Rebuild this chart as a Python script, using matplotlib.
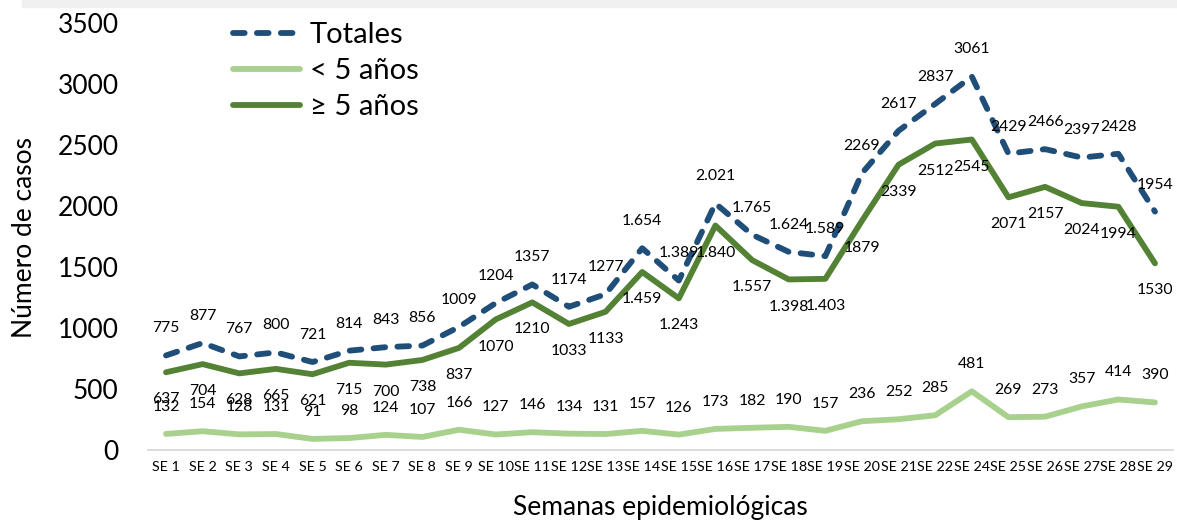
import matplotlib
matplotlib.use("Agg")
import matplotlib.pyplot as plt
from matplotlib.patches import Rectangle

plt.rcParams['font.family'] = ['Lato', 'DejaVu Sans']

weeks = ["SE 1", "SE 2", "SE 3", "SE 4", "SE 5", "SE 6", "SE 7", "SE 8", "SE 9", "SE 10",
         "SE 11", "SE 12", "SE 13", "SE 14", "SE 15", "SE 16", "SE 17", "SE 18", "SE 19",
         "SE 20", "SE 21", "SE 22", "SE 24", "SE 25", "SE 26", "SE 27", "SE 28", "SE 29"]

totales = [775, 877, 767, 800, 721, 814, 843, 856, 1009, 1204, 1357, 1174, 1277, 1654,
           1389, 2021, 1765, 1624, 1589, 2269, 2617, 2837, 3061, 2429, 2466, 2397, 2428, 1954]
menores5 = [132, 154, 128, 131, 91, 98, 124, 107, 166, 127, 146, 134, 131, 157, 126, 173,
            182, 190, 157, 236, 252, 285, 481, 269, 273, 357, 414, 390]
mayores5 = [637, 704, 628, 665, 621, 715, 700, 738, 837, 1070, 1210, 1033, 1133, 1459,
            1243, 1840, 1557, 1398, 1403, 1879, 2339, 2512, 2545, 2071, 2157, 2024, 1994, 1530]

# weeks whose labels use a dot as thousands separator
dot_weeks = ["SE 14", "SE 15", "SE 16", "SE 17", "SE 18", "SE 19"]

def fmt(v, w):
    if w in dot_weeks and v >= 1000:
        return f"{v:,}".replace(",", ".")
    return str(v)

W, H = 1177, 523
fig = plt.figure(figsize=(W / 100, H / 100), dpi=100)
fig.patches.append(Rectangle((22 / W, 1 - 7 / H), 1, 7 / H, transform=fig.transFigure,
                             color="#F0F0F0", zorder=0))

ax = fig.add_axes([147.7 / W, 1 - 450 / H, (1173.3 - 147.7) / W, (450 - 23) / H])
x = list(range(len(weeks)))

c_tot = "#1F4E79"
c_men = "#A9D18E"
c_may = "#548235"

ax.plot(x, totales, color=c_tot, lw=4.2, dashes=(2.0, 2.1), dash_capstyle="round",
        dash_joinstyle="round", label="Totales", zorder=3)
ax.plot(x, menores5, color=c_men, lw=4.2, solid_capstyle="round", solid_joinstyle="round",
        label="< 5 años", zorder=3)
ax.plot(x, mayores5, color=c_may, lw=4.2, solid_capstyle="round", solid_joinstyle="round",
        label="≥ 5 años", zorder=3)

lab_fs = 11.3
off = 19.5
for xi, w, v in zip(x, weeks, totales):
    ax.annotate(fmt(v, w), (xi, v), xytext=(0, off), textcoords="offset points",
                ha="center", va="center", fontsize=lab_fs, color="#000000", zorder=4)
for xi, w, v in zip(x, weeks, mayores5):
    ax.annotate(fmt(v, w), (xi, v), xytext=(0, -off), textcoords="offset points",
                ha="center", va="center", fontsize=lab_fs, color="#000000", zorder=4)
for xi, w, v in zip(x, weeks, menores5):
    ax.annotate(fmt(v, w), (xi, v), xytext=(0, off), textcoords="offset points",
                ha="center", va="center", fontsize=lab_fs, color="#000000", zorder=4)

ax.set_xlim(-0.5, len(weeks) - 0.5)
ax.set_ylim(0, 3500)
ax.set_yticks(range(0, 3501, 500))
ax.set_xticks(x)
ax.set_xticklabels(weeks, fontsize=10.3)
ax.tick_params(axis="y", length=0, pad=21, labelsize=19)
ax.tick_params(axis="x", length=0, pad=8)
for s in ["top", "right", "left"]:
    ax.spines[s].set_visible(False)
ax.spines["bottom"].set_color("#D9D9D9")
ax.spines["bottom"].set_linewidth(1.3)

fig.text(25 / W, 1 - 237 / H, "Número de casos", rotation=90, ha="center", va="center",
         fontsize=19)
fig.text(660 / W, 1 - 508 / H, "Semanas epidemiológicas", ha="center", va="center",
         fontsize=19)

leg = ax.legend(loc="upper left", bbox_to_anchor=(233 / W, 1 - 22 / H),
                bbox_transform=fig.transFigure, frameon=False, fontsize=21,
                handlelength=2.3, handletextpad=0.34, labelspacing=0.34, borderpad=0,
                borderaxespad=0)

fig.savefig("out.png", dpi=100)
